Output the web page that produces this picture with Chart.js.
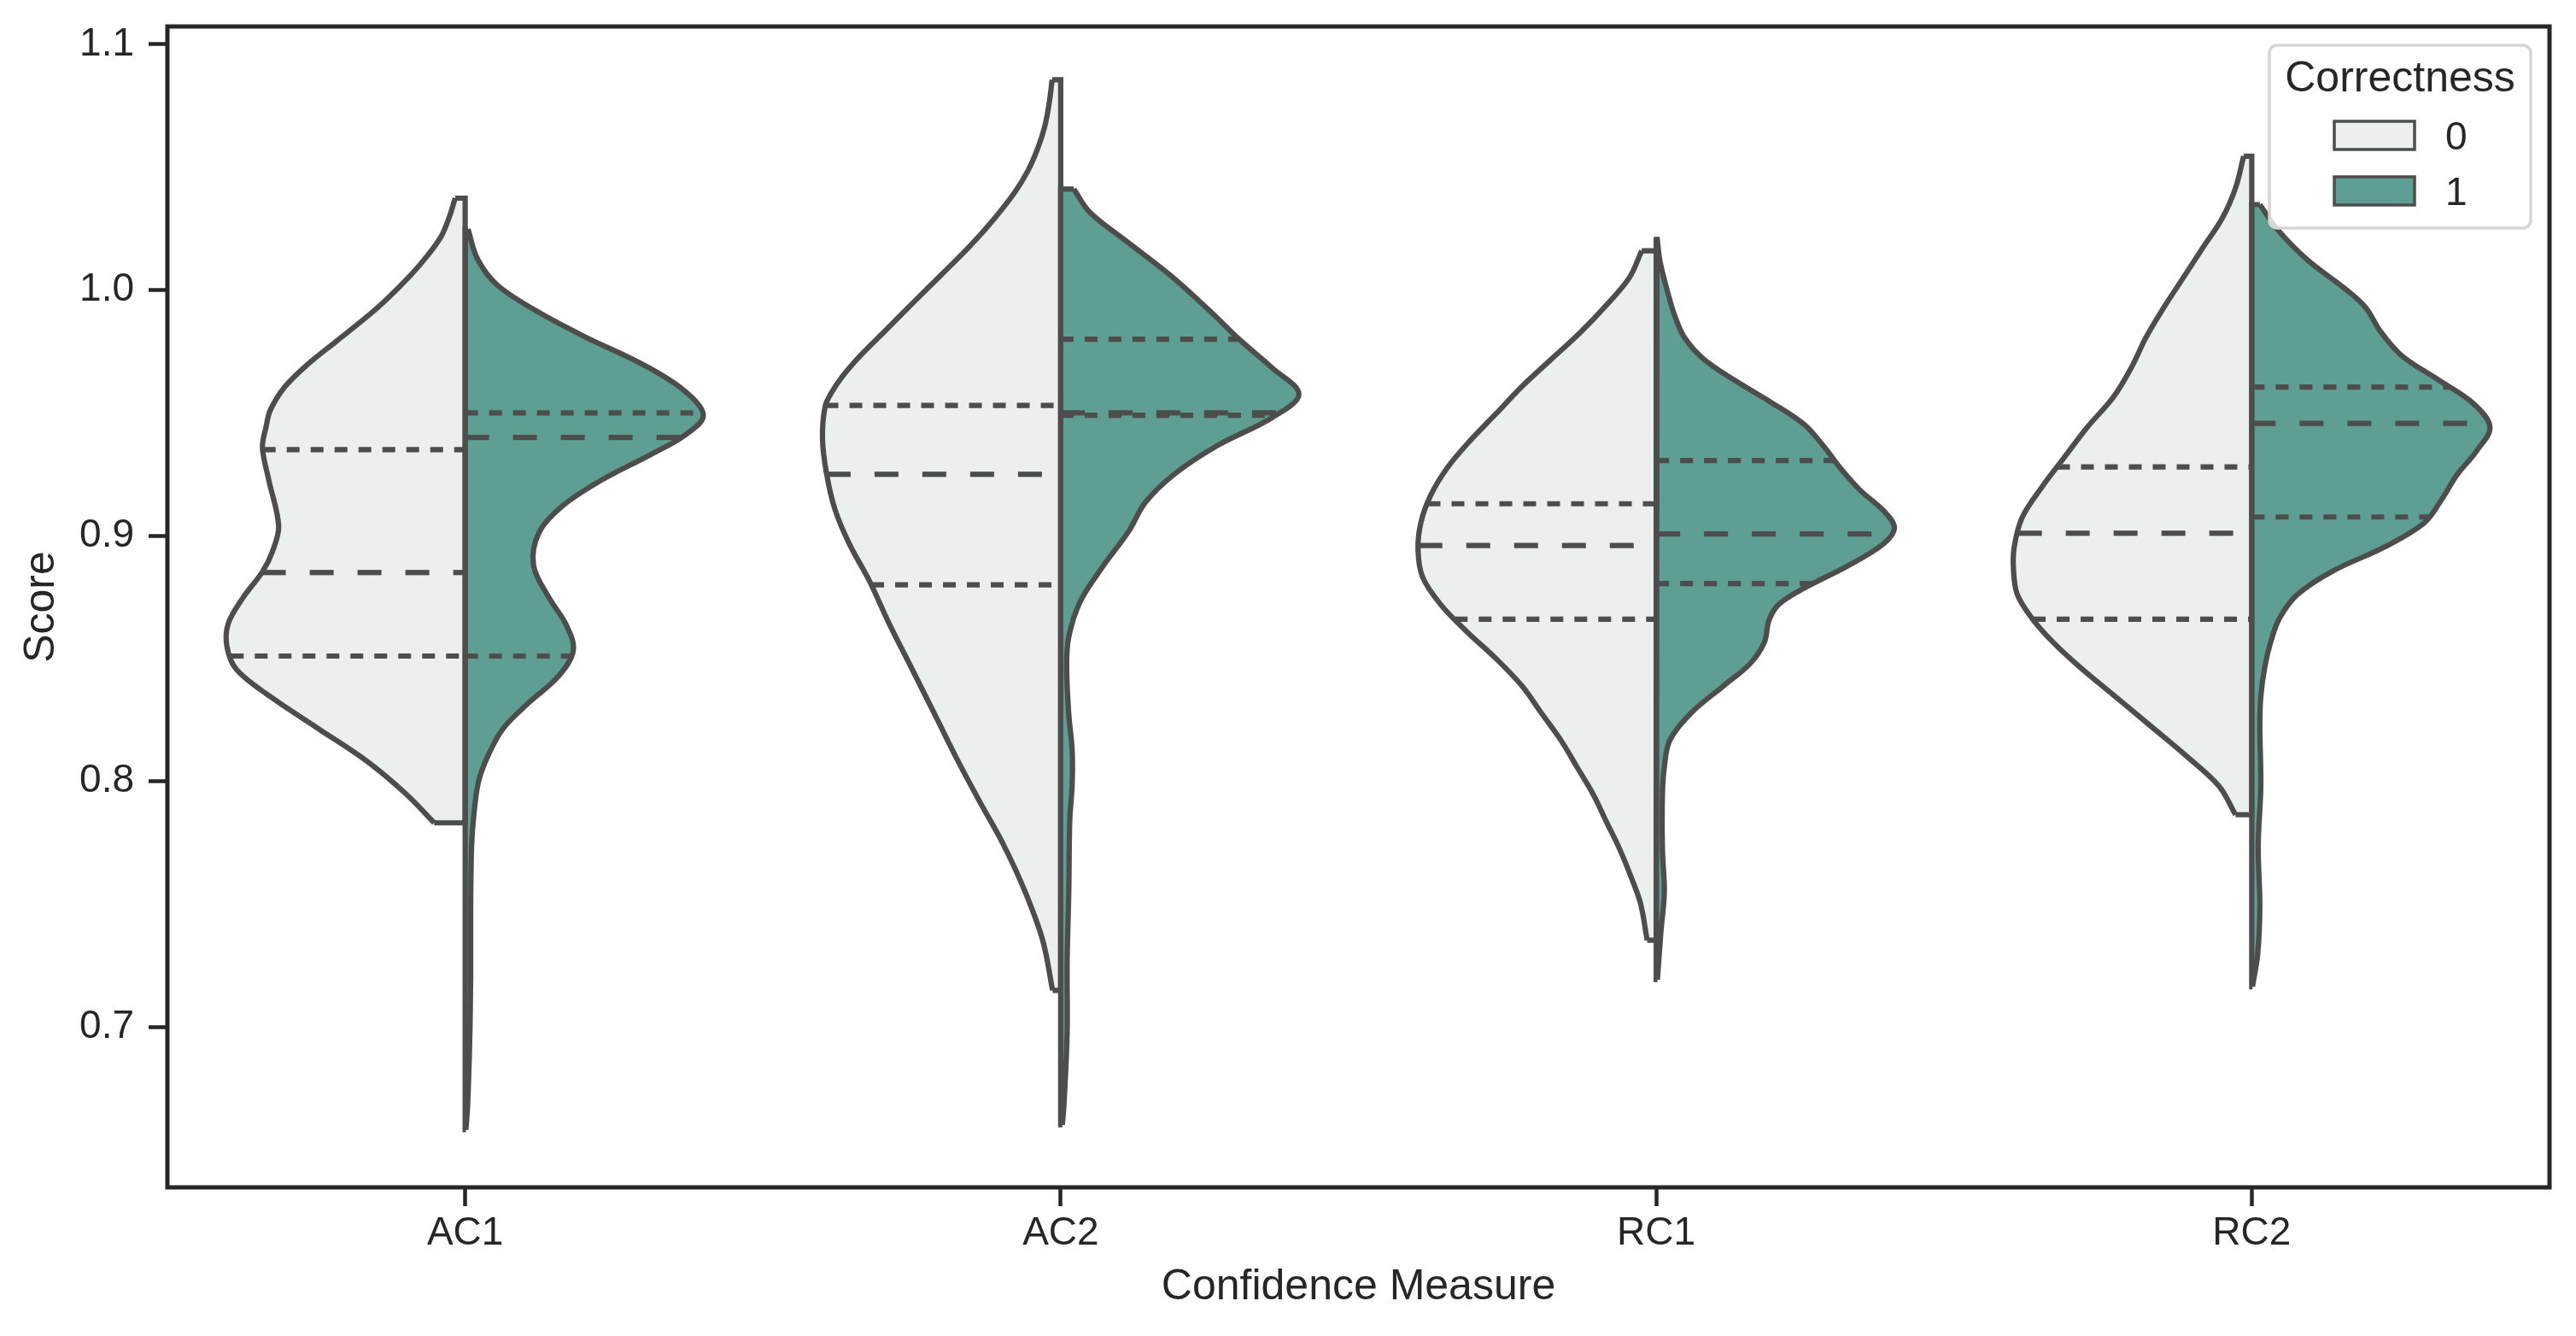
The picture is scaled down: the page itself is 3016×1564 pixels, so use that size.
<!DOCTYPE html>
<html>
<head>
<meta charset="utf-8">
<script src="https://cdn.jsdelivr.net/npm/chart.js@4.4.0/dist/chart.umd.min.js"></script>
<style>
  html, body { margin: 0; padding: 0; background: #ffffff; }
  #wrap { width: 3016px; height: 1564px; }
</style>
</head>
<body>
<div id="wrap"><canvas id="mycanvas"></canvas></div>
<script>
// categories (x) and hue levels (Correctness)
var categories = ['AC1', 'AC2', 'RC1', 'RC2'];
var hueLevels = ['0', '1'];
var yTicks = [0.7, 0.8, 0.9, 1.0, 1.1];

var ac1Score0 = [1.0374, 1.0299, 1.0218, 1.0137, 1.0056, 0.9963, 0.9882, 0.9789, 0.9696, 0.9604, 0.9511, 0.9442, 0.9358, 0.9225, 0.9039, 0.8933, 0.8853, 0.8747, 0.8641, 0.8548, 0.8455, 0.8349, 0.8216, 0.8083, 0.7950, 0.7831];
var ac1Dens0  = [0.042, 0.066, 0.101, 0.161, 0.233, 0.329, 0.424, 0.544, 0.663, 0.759, 0.818, 0.836, 0.851, 0.824, 0.783, 0.810, 0.851, 0.933, 0.995, 1.0, 0.960, 0.824, 0.619, 0.414, 0.250, 0.130];
var ac1Score1 = [1.0248, 1.0128, 1.0022, 0.9916, 0.9810, 0.9703, 0.9597, 0.9491, 0.9411, 0.9331, 0.9225, 0.9119, 0.9013, 0.8880, 0.8747, 0.8641, 0.8534, 0.8428, 0.8322, 0.8216, 0.8109, 0.8003, 0.7870, 0.7737, 0.7472, 0.7206, 0.6940, 0.6675, 0.6582];
var ac1Dens1  = [0.012, 0.051, 0.133, 0.297, 0.502, 0.734, 0.911, 1.0, 0.925, 0.780, 0.570, 0.406, 0.310, 0.287, 0.352, 0.422, 0.454, 0.392, 0.269, 0.160, 0.098, 0.057, 0.037, 0.027, 0.023, 0.023, 0.019, 0.010, 0.003];

var ac2Score0 = [1.0856, 1.0763, 1.0670, 1.0578, 1.0485, 1.0392, 1.0288, 1.0183, 1.0067, 0.9952, 0.9836, 0.9731, 0.9650, 0.9581, 0.9526, 0.9395, 0.9253, 0.9105, 0.8966, 0.8816, 0.8642, 0.8457, 0.8271, 0.8086, 0.7912, 0.7744, 0.7552, 0.7351, 0.7149];
var ac2Dens0  = [0.036, 0.048, 0.066, 0.096, 0.138, 0.197, 0.281, 0.377, 0.496, 0.616, 0.735, 0.843, 0.915, 0.963, 0.989, 1.0, 0.983, 0.947, 0.887, 0.803, 0.720, 0.624, 0.528, 0.433, 0.337, 0.241, 0.150, 0.075, 0.034];
var ac2Score1 = [1.0411, 1.0316, 1.0201, 1.0057, 0.9913, 0.9798, 0.9683, 0.9576, 0.9481, 0.9366, 0.9251, 0.9135, 0.9020, 0.8876, 0.8732, 0.8589, 0.8473, 0.8272, 0.8128, 0.7984, 0.7840, 0.7552, 0.7264, 0.6976, 0.6688, 0.6602];
var ac2Dens1  = [0.055, 0.123, 0.273, 0.464, 0.628, 0.751, 0.888, 1.0, 0.888, 0.656, 0.478, 0.355, 0.287, 0.178, 0.082, 0.034, 0.025, 0.034, 0.048, 0.048, 0.038, 0.034, 0.027, 0.027, 0.014, 0.007];

var rc1Score0 = [1.0160, 1.0050, 0.9939, 0.9828, 0.9718, 0.9607, 0.9496, 0.9385, 0.9275, 0.9164, 0.9053, 0.8943, 0.8832, 0.8721, 0.8610, 0.8500, 0.8389, 0.8278, 0.8167, 0.8057, 0.7946, 0.7835, 0.7725, 0.7614, 0.7503, 0.7353];
var rc1Dens0  = [0.061, 0.113, 0.209, 0.318, 0.441, 0.564, 0.673, 0.783, 0.878, 0.947, 0.988, 1.0, 0.981, 0.906, 0.796, 0.673, 0.564, 0.482, 0.400, 0.332, 0.264, 0.209, 0.154, 0.107, 0.066, 0.038];
var rc1Score1 = [1.0216, 1.0116, 1.0006, 0.9895, 0.9806, 0.9718, 0.9629, 0.9541, 0.9452, 0.9363, 0.9275, 0.9186, 0.9098, 0.9031, 0.8965, 0.8876, 0.8788, 0.8721, 0.8655, 0.8566, 0.8477, 0.8389, 0.8278, 0.8167, 0.8057, 0.7946, 0.7725, 0.7548, 0.7392, 0.7193];
var rc1Dens1  = [0.003, 0.016, 0.044, 0.078, 0.119, 0.200, 0.335, 0.485, 0.622, 0.704, 0.773, 0.855, 0.958, 1.0, 0.952, 0.802, 0.624, 0.515, 0.473, 0.454, 0.392, 0.283, 0.146, 0.057, 0.034, 0.026, 0.026, 0.034, 0.020, 0.005];

var rc2Score0 = [1.0545, 1.0416, 1.0294, 1.0173, 1.0051, 0.9929, 0.9807, 0.9685, 0.9564, 0.9442, 0.9320, 0.9198, 0.9076, 0.8955, 0.8857, 0.8760, 0.8663, 0.8565, 0.8467, 0.8346, 0.8224, 0.8102, 0.7980, 0.7864];
var rc2Dens0  = [0.034, 0.068, 0.123, 0.205, 0.287, 0.369, 0.444, 0.505, 0.581, 0.690, 0.786, 0.881, 0.963, 0.997, 1.0, 0.984, 0.922, 0.833, 0.724, 0.574, 0.423, 0.273, 0.137, 0.068];
var rc2Score1 = [1.0348, 1.0245, 1.0124, 1.0002, 0.9929, 0.9832, 0.9734, 0.9637, 0.9539, 0.9442, 0.9344, 0.9247, 0.9150, 0.9052, 0.8955, 0.8857, 0.8760, 0.8663, 0.8565, 0.8467, 0.8346, 0.8224, 0.7980, 0.7737, 0.7493, 0.7298, 0.7164];
var rc2Dens1  = [0.034, 0.109, 0.232, 0.396, 0.478, 0.540, 0.628, 0.779, 0.929, 1.0, 0.943, 0.861, 0.799, 0.724, 0.560, 0.342, 0.191, 0.116, 0.079, 0.055, 0.038, 0.034, 0.038, 0.027, 0.034, 0.025, 0.003];

// quartiles per category (AC1, AC2, RC1, RC2)
var q1Group0  = [0.851, 0.880, 0.866, 0.866];
var medGroup0 = [0.885, 0.925, 0.896, 0.901];
var q3Group0  = [0.935, 0.953, 0.913, 0.928];
var q1Group1  = [0.851, 0.949, 0.8805, 0.9076];
var medGroup1 = [0.940, 0.950, 0.9007, 0.9457];
var q3Group1  = [0.950, 0.980, 0.9306, 0.9605];

// styles
var fillColors = ['#ebf0ee', '#5f9e93'];
var lineColor = '#4d4d4d';
var inkColor = '#262626';
var halfWidth = 0.4;
var lw = 6.2;
var fontFamily = '"Liberation Sans", Arial, Helvetica, sans-serif';

var profiles = [
  [[ac1Score0, ac1Dens0], [ac1Score1, ac1Dens1]],
  [[ac2Score0, ac2Dens0], [ac2Score1, ac2Dens1]],
  [[rc1Score0, rc1Dens0], [rc1Score1, rc1Dens1]],
  [[rc2Score0, rc2Dens0], [rc2Score1, rc2Dens1]]
];
var quartiles = [
  [q1Group0, medGroup0, q3Group0],
  [q1Group1, medGroup1, q3Group1]
];
var side = [-1, 1];

// density at a given score (linear interpolation of the outline)
function densAt(score, dens, v) {
  for (var i = 0; i < score.length - 1; i++) {
    if (v <= score[i] && v >= score[i + 1]) {
      var t = (score[i] - v) / (score[i] - score[i + 1]);
      return dens[i] + t * (dens[i + 1] - dens[i]);
    }
  }
  return 0;
}

var datasets = [];
for (var k = 0; k < categories.length; k++) {
  for (var g = 0; g < hueLevels.length; g++) {
    var sc = profiles[k][g][0];
    var de = profiles[k][g][1];
    var last = sc.length - 1;
    var curve = [];
    for (var i = 0; i < sc.length; i++) {
      curve.push({x: k + side[g] * halfWidth * de[i], y: sc[i]});
    }
    // outline curve of the half violin (filled by plugin)
    datasets.push({
      data: curve, violinFill: fillColors[g], violinCenter: k,
      borderColor: lineColor, borderWidth: lw, tension: 0.35,
      pointRadius: 0, fill: false, order: 3
    });
    // caps + centre edge
    datasets.push({
      data: [
        {x: k + side[g] * halfWidth * de[0], y: sc[0]},
        {x: k, y: sc[0]},
        {x: k, y: sc[last]},
        {x: k + side[g] * halfWidth * de[last], y: sc[last]}
      ],
      borderColor: lineColor, borderWidth: lw, tension: 0, borderJoinStyle: 'miter',
      pointRadius: 0, fill: false, order: 2
    });
    // quartile lines
    for (var q = 0; q < 3; q++) {
      var v = quartiles[g][q][k];
      var w = halfWidth * densAt(sc, de, v);
      var pts = g === 0 ? [{x: k - w, y: v}, {x: k, y: v}] : [{x: k, y: v}, {x: k + w, y: v}];
      datasets.push({
        data: pts, borderColor: lineColor, borderWidth: lw, tension: 0,
        borderDash: q === 1 ? [28, 28] : [15, 13], borderCapStyle: 'butt',
        pointRadius: 0, fill: false, order: 1
      });
    }
  }
}

var violinFill = {
  id: 'violinFill',
  beforeDatasetsDraw: function(chart) {
    var ctx = chart.ctx;
    chart.data.datasets.forEach(function(ds, i) {
      if (!ds.violinFill) return;
      var meta = chart.getDatasetMeta(i);
      var pts = meta.data;
      var xc = chart.scales.x.getPixelForValue(ds.violinCenter);
      meta.dataset.updateControlPoints(chart.chartArea, meta.iAxis);
      ctx.save();
      ctx.beginPath();
      meta.dataset.path(ctx);
      ctx.lineTo(xc, pts[pts.length - 1].y);
      ctx.lineTo(xc, pts[0].y);
      ctx.closePath();
      ctx.fillStyle = ds.violinFill;
      ctx.fill();
      ctx.restore();
    });
  }
};

var frameAndLegend = {
  id: 'frameAndLegend',
  afterDatasetsDraw: function(chart) {
    var ctx = chart.ctx, a = chart.chartArea;
    ctx.save();
    ctx.strokeStyle = inkColor;
    ctx.lineWidth = 5;
    ctx.strokeRect(a.left, a.top, a.right - a.left, a.bottom - a.top);
    ctx.restore();
  },
  afterDraw: function(chart) {
    var ctx = chart.ctx, a = chart.chartArea;
    var bw = 306, bh = 214;
    var bx = a.right - 22 - bw, by = a.top + 22;
    ctx.save();
    ctx.beginPath();
    ctx.roundRect(bx, by, bw, bh, 9);
    ctx.fillStyle = 'rgba(255,255,255,0.8)';
    ctx.fill();
    ctx.lineWidth = 3.5;
    ctx.strokeStyle = '#d5d5d5';
    ctx.stroke();
    ctx.fillStyle = inkColor;
    ctx.font = '50px ' + fontFamily;
    ctx.textAlign = 'center';
    ctx.textBaseline = 'alphabetic';
    ctx.fillText('Correctness', bx + bw / 2, by + 54);
    ctx.font = '46px ' + fontFamily;
    ctx.textAlign = 'left';
    for (var g = 0; g < hueLevels.length; g++) {
      var py = by + 89 + g * 65;
      ctx.fillStyle = fillColors[g];
      ctx.fillRect(bx + 76, py, 94, 33);
      ctx.lineWidth = 3.5;
      ctx.strokeStyle = lineColor;
      ctx.strokeRect(bx + 76, py, 94, 33);
      ctx.fillStyle = inkColor;
      ctx.fillText(hueLevels[g], bx + 206, py + 33);
    }
    ctx.restore();
  }
};

Chart.defaults.font.family = fontFamily;
Chart.defaults.color = inkColor;

var ctx = document.getElementById('mycanvas');
var violinChart = new Chart(ctx, {
  type: 'line',
  data: { datasets: datasets },
  plugins: [violinFill, frameAndLegend],
  options: {
    responsive: true,
    maintainAspectRatio: false,
    devicePixelRatio: 1,
    animation: false,
    events: [],
    layout: { padding: { top: 31, right: 31, left: 0, bottom: 0 } },
    plugins: { legend: { display: false }, tooltip: { enabled: false } },
    scales: {
      x: {
        type: 'linear', min: -0.5, max: 3.5,
        afterBuildTicks: function(scale) {
          scale.ticks = categories.map(function(c, i) { return {value: i}; });
        },
        afterFit: function(scale) {
          scale.height = 174;
          scale.paddingLeft = 0; scale.paddingRight = 0;
        },
        ticks: {
          font: { size: 46 }, color: inkColor, padding: 5, maxRotation: 0, autoSkip: false,
          callback: function(v) { return categories[v]; }
        },
        grid: { drawOnChartArea: false, drawTicks: true, tickLength: 22, tickWidth: 4.5, tickColor: inkColor },
        border: { display: false },
        title: { display: true, text: 'Confidence Measure', font: { size: 50 }, color: inkColor, padding: { top: 0, bottom: 27 } }
      },
      y: {
        type: 'linear', min: 0.6347, max: 1.1073,
        afterBuildTicks: function(scale) {
          scale.ticks = yTicks.map(function(v) { return {value: v}; });
        },
        afterFit: function(scale) {
          scale.width = 196;
          scale.paddingTop = 0; scale.paddingBottom = 0;
        },
        ticks: {
          font: { size: 46 }, color: inkColor, padding: 17,
          callback: function(v) { return v.toFixed(1); }
        },
        grid: { drawOnChartArea: false, drawTicks: true, tickLength: 22, tickWidth: 4.5, tickColor: inkColor },
        border: { display: false },
        title: { display: true, text: 'Score', font: { size: 50 }, color: inkColor, padding: { top: 19, bottom: 0 } }
      }
    }
  }
});
</script>
</body>
</html>
